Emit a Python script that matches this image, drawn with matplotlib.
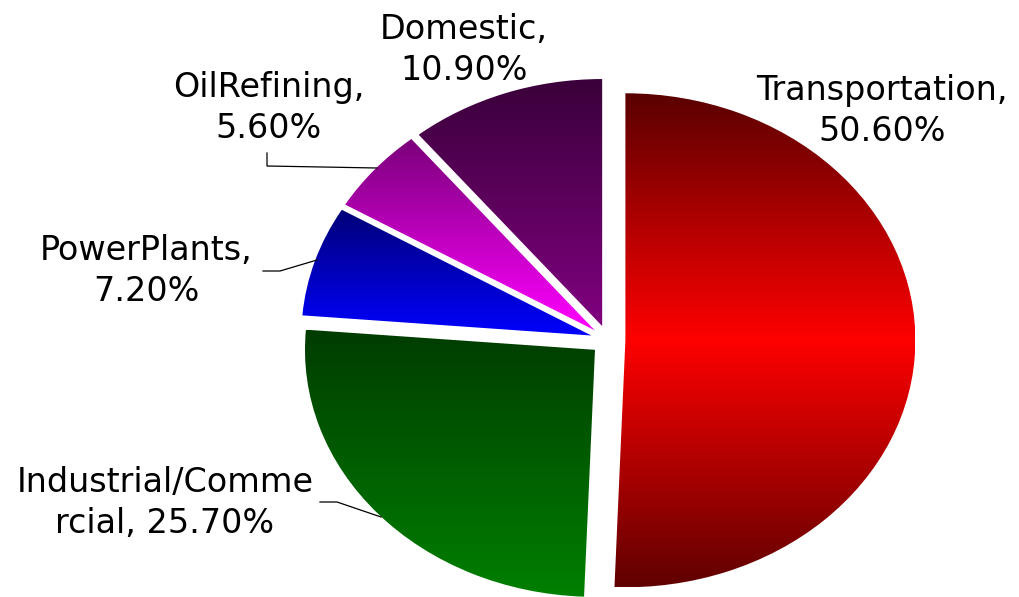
import numpy as np
import matplotlib
matplotlib.use('Agg')
import matplotlib.pyplot as plt
from matplotlib.colors import LinearSegmentedColormap

# ---- data ----
categories = ['Transportation', 'Industrial/Commercial', 'PowerPlants', 'OilRefining', 'Domestic']
shares = [50.6, 25.7, 7.2, 5.6, 10.9]
label_texts = ['Transportation,\n50.60%', 'Industrial/Comme\nrcial, 25.70%',
               'PowerPlants,\n7.20%', 'OilRefining,\n5.60%', 'Domestic,\n10.90%']
# gradient colours, listed top -> bottom
gradient_stops = [['#5a0000', '#ff0000', '#600000'],
                  ['#003c00', '#008000'],
                  ['#000078', '#0000ff'],
                  ['#7a007a', '#ff00ff'],
                  ['#3a003a', '#800080']]

W, H = 1019, 597
CX, CY, RX, RY = 608, 340, 290, 247   # pie centre and radii in pixels


def px(x, y):
    """pixel position (from top-left) -> data coords"""
    return (x - CX) / RX, (CY - y) / RY


fig = plt.figure(figsize=(W / 100, H / 100), dpi=100)
ax = fig.add_axes([0, 0, 1, 1])

wedges, _ = ax.pie(shares, explode=[0.06] * len(shares), startangle=90,
                   counterclock=False, wedgeprops=dict(linewidth=0))

grad = np.linspace(0, 1, 256).reshape(-1, 1)
for w, stops in zip(wedges, gradient_stops):
    bb = w.get_path().get_extents()
    cmap = LinearSegmentedColormap.from_list('g', stops[::-1])
    ax.imshow(grad, cmap=cmap, extent=(bb.x0, bb.x1, bb.y0, bb.y1),
              origin='lower', aspect='auto', interpolation='bilinear',
              clip_path=w, zorder=2)
    w.set_facecolor('none')

# labels
label_pos = [(882, 111), (165, 503), (146, 271), (269, 108), (464, 50)]
for txt, (lx, ly) in zip(label_texts, label_pos):
    x, y = px(lx, ly)
    ax.text(x, y, txt, ha='center', va='center', fontsize=24,
            family='DejaVu Sans', linespacing=1.3, color='black', zorder=5)

# leader lines
leaders = [
    [(267, 153), (267, 166), (377, 168)],   # OilRefining
    [(263, 271), (280, 271), (317, 260)],   # PowerPlants
    [(320, 502), (337, 502), (381, 517)],   # Industrial
]
for pts in leaders:
    xs, ys = zip(*[px(a, b) for a, b in pts])
    ax.plot(xs, ys, color='black', lw=0.9, zorder=4)

ax.set_aspect('auto')
ax.set_xlim(-CX / RX, (W - CX) / RX)
ax.set_ylim((CY - H) / RY, CY / RY)
ax.axis('off')

fig.savefig('out.png', dpi=100, facecolor='white')
